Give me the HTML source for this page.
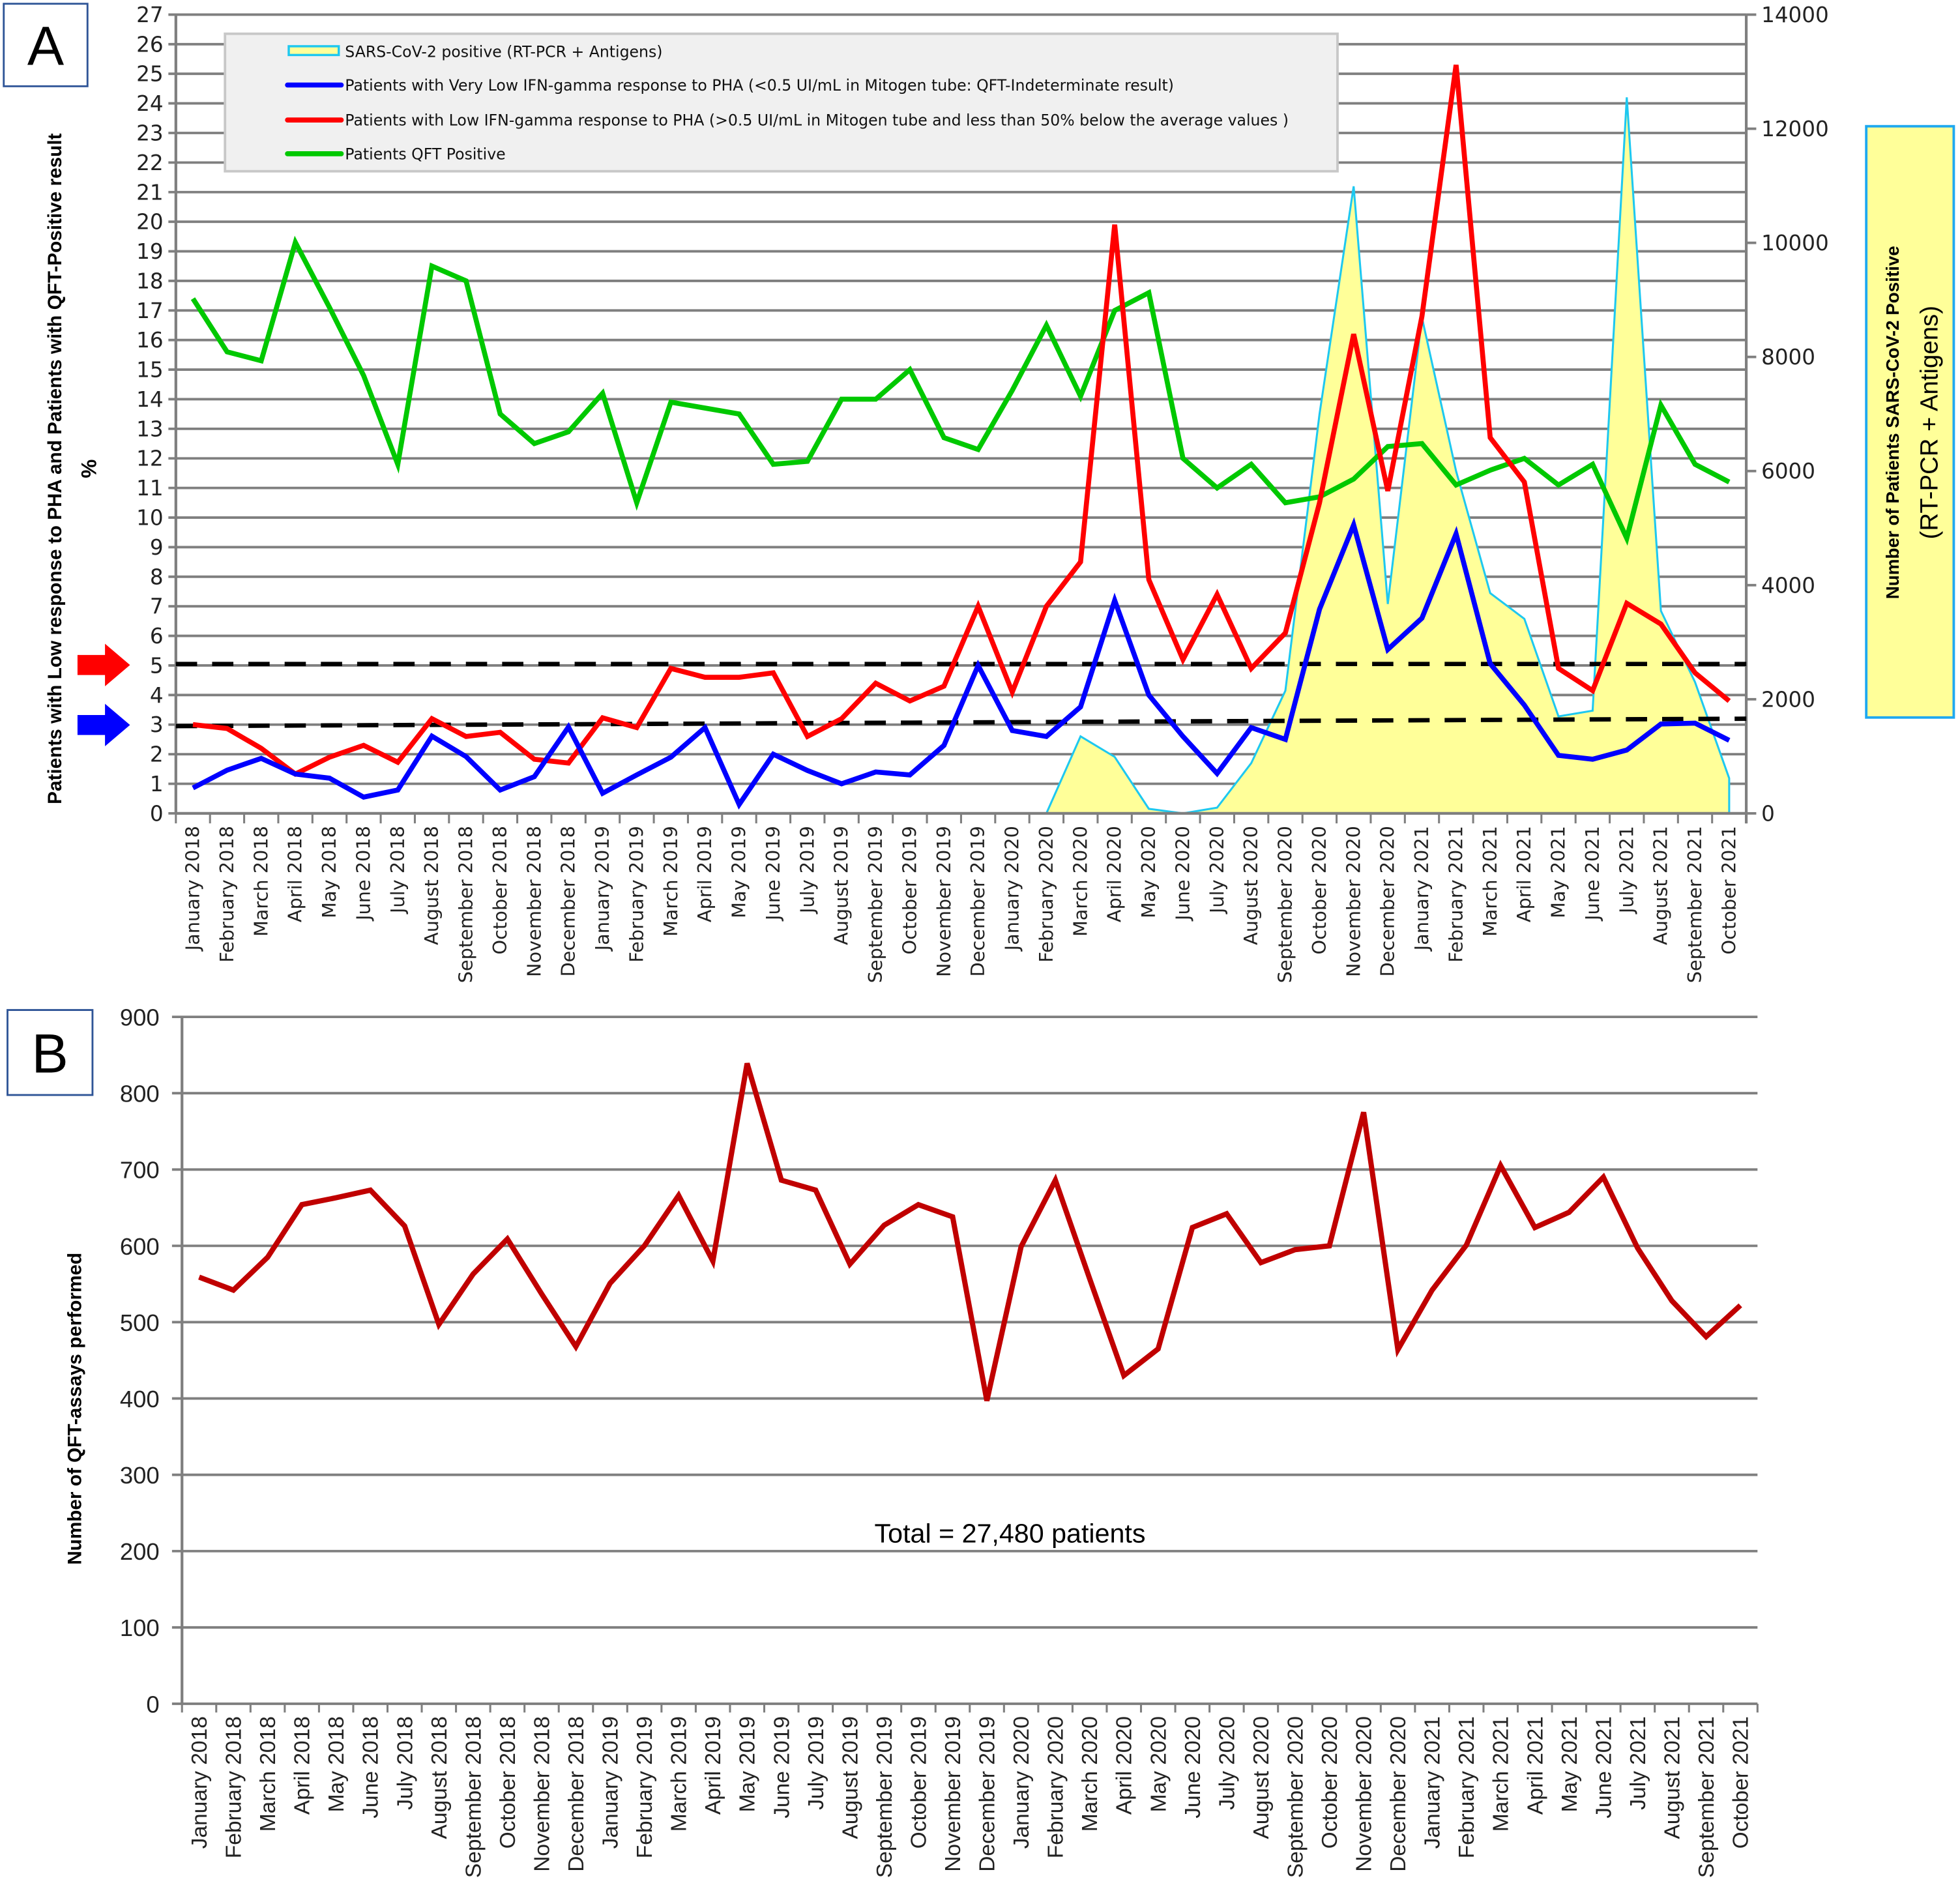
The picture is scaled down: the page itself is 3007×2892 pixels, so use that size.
<!DOCTYPE html>
<html><head><meta charset="utf-8"><style>
html,body{margin:0;padding:0;background:#fff;}
svg{display:block;font-family:"Liberation Sans","DejaVu Sans",sans-serif;}
</style></head><body>
<svg id="chart" width="3007" height="2892" viewBox="0 0 1568 1508" preserveAspectRatio="none" xmlns="http://www.w3.org/2000/svg">
<rect x="0" y="0" width="1568" height="1508" fill="#fff"/>
<g id="panelA"></g>
<g id="panelB"></g>
</svg>
<script>
const months = ["January 2018","February 2018","March 2018","April 2018","May 2018","June 2018","July 2018","August 2018","September 2018","October 2018","November 2018","December 2018","January 2019","February 2019","March 2019","April 2019","May 2019","June 2019","July 2019","August 2019","September 2019","October 2019","November 2019","December 2019","January 2020","February 2020","March 2020","April 2020","May 2020","June 2020","July 2020","August 2020","September 2020","October 2020","November 2020","December 2020","January 2021","February 2021","March 2021","April 2021","May 2021","June 2021","July 2021","August 2021","September 2021","October 2021"];
const qftPositive = [17.4,15.6,15.3,19.3,17.1,14.8,11.8,18.5,18.0,13.5,12.5,12.9,14.2,10.5,13.9,13.7,13.5,11.8,11.9,14.0,14.0,15.0,12.7,12.3,14.3,16.5,14.1,17.0,17.6,12.0,11.0,11.8,10.5,10.7,11.3,12.4,12.5,11.1,11.6,12.0,11.1,11.8,9.3,13.8,11.8,11.2];
const lowResponse = [3.0,2.87,2.2,1.33,1.9,2.3,1.73,3.2,2.6,2.74,1.83,1.7,3.23,2.9,4.9,4.6,4.6,4.75,2.6,3.2,4.4,3.8,4.3,7.0,4.1,7.0,8.5,19.9,7.9,5.2,7.4,4.9,6.1,10.5,16.2,10.9,16.8,25.3,12.7,11.2,4.9,4.15,7.1,6.4,4.75,3.8];
const veryLowResponse = [0.86,1.46,1.86,1.33,1.19,0.55,0.79,2.61,1.92,0.79,1.24,2.92,0.68,1.3,1.9,2.9,0.3,2.0,1.45,1.0,1.4,1.3,2.3,5.0,2.8,2.6,3.6,7.2,4.0,2.6,1.35,2.9,2.5,6.9,9.75,5.54,6.6,9.45,5.06,3.66,1.96,1.83,2.14,3.02,3.05,2.47];
const sarsMonthsStart = 25; // February 2020
const sarsPositive = [0,1350,990,80,0,100,880,2150,7000,10990,3670,8690,6000,3860,3410,1700,1800,12550,3550,2300,615];
const leftTicks = [0,1,2,3,4,5,6,7,8,9,10,11,12,13,14,15,16,17,18,19,20,21,22,23,24,25,26,27];
const rightTicks = [0,2000,4000,6000,8000,10000,12000,14000];
const thresholdHigh = [5.05,5.05];
const thresholdLow = [2.95,3.2];
const assays = [559,542,585,654,663,673,626,497,563,609,537,468,551,600,666,580,839,686,673,576,627,654,638,397,599,686,557,430,465,624,642,578,595,600,775,464,542,601,705,624,644,690,597,528,481,522];
const bTicks = [0,100,200,300,400,500,600,700,800,900];

const NS="http://www.w3.org/2000/svg";
const VER='"DejaVu Sans","Liberation Sans",sans-serif';
function mk(parent,tag,attrs,text){const e=document.createElementNS(NS,tag);for(const k in attrs)e.setAttribute(k,attrs[k]);if(text!==undefined)e.textContent=text;parent.appendChild(e);return e;}

// ---------- Panel A ----------
const A=document.getElementById('panelA');
const aL=140.7,aR=1397,aT=11.7,aB=650.7;
const aBand=(aR-aL)/months.length;
const ax=i=>aL+aBand*(i+0.5);
const ay=v=>aB-(v/27)*(aB-aT);
const ay2=v=>aB-(v/14000)*(aB-aT);

leftTicks.forEach(t=>{
  const g=mk(A,'line',{x1:aL-6,x2:aR,y1:ay(t),y2:ay(t),stroke:'#7f7f7f','stroke-width':2});
  
  
  const tx=mk(A,'text',{x:aL-10,y:ay(t)+6,'text-anchor':'end','font-size':17,'font-family':VER,fill:'#222'},String(t));
  
  
});
rightTicks.forEach(t=>{
  mk(A,'line',{x1:aR,x2:aR+8,y1:ay2(t),y2:ay2(t),stroke:'#7f7f7f','stroke-width':2});
  const tx=mk(A,'text',{x:aR+12,y:ay2(t)+6,'font-size':17,'font-family':VER,fill:'#222'},String(t));
  
  
});

{
  let pts=[];
  pts.push(ax(sarsMonthsStart)+','+aB);
  sarsPositive.forEach((v,j)=>pts.push(ax(sarsMonthsStart+j)+','+ay2(v)));
  pts.push(ax(sarsMonthsStart+sarsPositive.length-1)+','+aB);
  const p=mk(A,'polygon',{points:pts.join(' '),fill:'#ffff99',stroke:'none'});
  
  
  const pl=mk(A,'polyline',{points:pts.join(' '),fill:'none',stroke:'#1ec8f0','stroke-width':1.6});
  
  
}
mk(A,'line',{x1:aL,x2:aL,y1:aT,y2:aB,stroke:'#7f7f7f','stroke-width':2.2});
mk(A,'line',{x1:aR,x2:aR,y1:aT,y2:aB+8,stroke:'#7f7f7f','stroke-width':2.2});
mk(A,'line',{x1:aL,x2:aR,y1:aB,y2:aB,stroke:'#7f7f7f','stroke-width':2.2});
for(let i=0;i<=months.length;i++){mk(A,'line',{x1:aL+aBand*i,x2:aL+aBand*i,y1:aB,y2:aB+8,stroke:'#7f7f7f','stroke-width':1.6});}
months.forEach((m,i)=>{
  const t=mk(A,'text',{x:0,y:0,transform:`translate(${ax(i)+5},${aB+10}) rotate(-90)`,'text-anchor':'end','font-size':15,'font-family':VER,fill:'#222'},m);
  
  
});

{
  const d1=mk(A,'line',{x1:aL,x2:aR,y1:ay(thresholdHigh[0]),y2:ay(thresholdHigh[1]),stroke:'#000','stroke-width':3.5,'stroke-dasharray':'17 12'});
  
  
  const d2=mk(A,'line',{x1:aL,x2:aR,y1:ay(thresholdLow[0]),y2:ay(thresholdLow[1]),stroke:'#000','stroke-width':3.5,'stroke-dasharray':'17 12'});
  
  
}
function series(parent,data,color,name,xf,yf,w){
  const pts=data.map((v,i)=>xf(i)+','+yf(v)).join(' ');
  const p=mk(parent,'polyline',{points:pts,fill:'none',stroke:color,'stroke-width':w,'stroke-linejoin':'miter','stroke-miterlimit':4});
  
  
}
series(A,qftPositive,'#00c800','qft-positive-line',ax,ay,4);
series(A,lowResponse,'#ff0000','low-response-line',ax,ay,4);
series(A,veryLowResponse,'#0000ff','very-low-response-line',ax,ay,4);

{
  const lg=mk(A,'g',{});
  
  
  mk(lg,'rect',{x:180,y:27,width:890,height:110,fill:'#f0f0f0',stroke:'#c8c8c8','stroke-width':2});
  mk(lg,'rect',{x:231,y:37,width:40,height:7,fill:'#ffff99',stroke:'#1ec8f0','stroke-width':1.8});
  const items=[["SARS-CoV-2 positive (RT-PCR + Antigens)",null,41],["Patients with Very Low IFN-gamma response to PHA (<0.5 UI/mL in Mitogen tube: QFT-Indeterminate result)","#0000ff",68],["Patients with Low IFN-gamma response to PHA (>0.5 UI/mL in Mitogen tube and less than 50% below the average values )","#ff0000",96],["Patients QFT Positive","#00c800",123]];
  items.forEach(it=>{
    if(it[1]) mk(lg,'line',{x1:230,x2:273,y1:it[2],y2:it[2],stroke:it[1],'stroke-width':4,'stroke-linecap':'round'});
    const t=mk(lg,'text',{x:276,y:it[2]+4.5,'font-size':12.3,'font-family':VER,fill:'#111'},it[0]);
    
    
  });
}
mk(A,'rect',{x:3,y:3,width:67,height:66,fill:'#fff',stroke:'#2f5597','stroke-width':1.5});
mk(A,'text',{x:36.5,y:52,'text-anchor':'middle','font-size':44,fill:'#000'},'A');
mk(A,'polygon',{points:'62,524 84,524 84,515 104,532 84,549 84,540 62,540',fill:'#ff0000'});
mk(A,'polygon',{points:'62,572 84,572 84,563 104,580 84,597 84,588 62,588',fill:'#0000ff'});
{
  const t=mk(A,'text',{transform:'translate(49,375) rotate(-90)','text-anchor':'middle','font-size':15.5,'font-weight':'bold',fill:'#000'},'Patients with Low response to PHA and Patients with QFT-Positive result');
  
  
  mk(A,'text',{transform:'translate(77,375) rotate(-90)','text-anchor':'middle','font-size':17,'font-weight':'bold',fill:'#000'},'%');
}
{
  mk(A,'rect',{x:1493,y:101,width:70,height:473,fill:'#ffff99',stroke:'#1ea8f0','stroke-width':2});
  const t=mk(A,'text',{transform:'translate(1519,338) rotate(-90)','text-anchor':'middle','font-size':14.5,'font-weight':'bold',fill:'#000'},'Number of Patients SARS-CoV-2 Positive');
  
  
  mk(A,'text',{transform:'translate(1550,338) rotate(-90)','text-anchor':'middle','font-size':20,fill:'#000'},'(RT-PCR + Antigens)');
}

// ---------- Panel B ----------
const B=document.getElementById('panelB');
const bL=145.6,bR=1406,bT=813.5,bBot=1363;
const bBand=(bR-bL)/months.length;
const bx=i=>bL+bBand*(i+0.5);
const by=v=>bBot-(v/900)*(bBot-bT);
bTicks.forEach(t=>{
  const g=mk(B,'line',{x1:bL-8,x2:bR,y1:by(t),y2:by(t),stroke:'#7f7f7f','stroke-width':2});
  
  
  const tx=mk(B,'text',{x:bL-18,y:by(t)+7,'text-anchor':'end','font-size':19,fill:'#222'},String(t));
  
  
});
mk(B,'line',{x1:bL,x2:bL,y1:bT,y2:bBot,stroke:'#7f7f7f','stroke-width':2.2});
for(let i=0;i<=months.length;i++){mk(B,'line',{x1:bL+bBand*i,x2:bL+bBand*i,y1:bBot,y2:bBot+7,stroke:'#7f7f7f','stroke-width':1.6});}
months.forEach((m,i)=>{
  const t=mk(B,'text',{x:0,y:0,transform:`translate(${bx(i)+6},${bBot+10}) rotate(-90)`,'text-anchor':'end','font-size':17.5,fill:'#222'},m);
  
  
});
series(B,assays,'#c00000','qft-assays-line',bx,by,4.2);
mk(B,'rect',{x:6,y:808,width:68,height:68,fill:'#fff',stroke:'#2f5597','stroke-width':1.5});
mk(B,'text',{x:40,y:858,'text-anchor':'middle','font-size':44,fill:'#000'},'B');
{
  const t=mk(B,'text',{transform:'translate(65,1127) rotate(-90)','text-anchor':'middle','font-size':15.5,'font-weight':'bold',fill:'#000'},'Number of  QFT-assays performed');
  
  
  const tt=mk(B,'text',{x:808,y:1234,'text-anchor':'middle','font-size':21.5,fill:'#000'},'Total = 27,480 patients');
  
  
}
</script>
</body></html>
